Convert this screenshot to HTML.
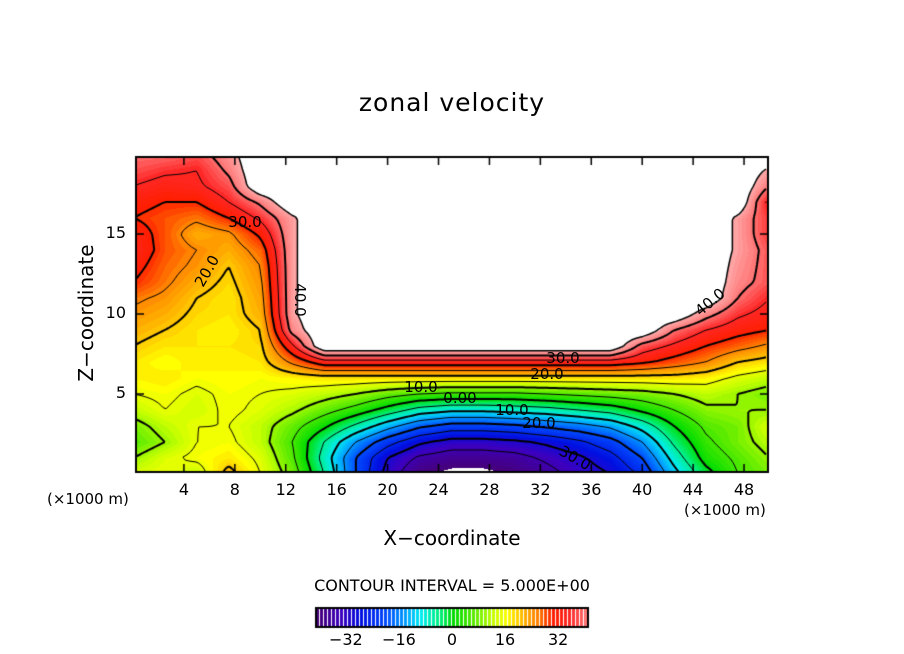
<!DOCTYPE html>
<html><head><meta charset="utf-8">
<style>
body{margin:0;background:#fff;width:904px;height:654px;overflow:hidden;font-family:"DejaVu Sans","Liberation Sans",sans-serif;}
#wrap{position:relative;width:904px;height:654px;}
.t{position:absolute;color:#000;white-space:nowrap;}
canvas{position:absolute;left:0;top:0;}
</style></head>
<body>
<div id="wrap">
<canvas id="cv" width="904" height="654"></canvas>
<div class="t" style="left:0;width:904px;text-align:center;top:88px;font-size:25px;letter-spacing:1px;">zonal velocity</div>
<div class="t" style="left:352px;width:200px;text-align:center;top:526px;font-size:20px;">X−coordinate</div>
<div class="t" style="left:-14px;top:301px;width:200px;text-align:center;font-size:20px;transform:rotate(-90deg);">Z−coordinate</div>
<div class="t" style="left:47px;top:490px;font-size:15px;">(×1000 m)</div>
<div class="t" style="left:684px;top:501px;font-size:15px;">(×1000 m)</div>
<div class="t" style="left:0;width:904px;text-align:center;top:576px;font-size:16px;">CONTOUR INTERVAL = 5.000E+00</div>
<div id="labels"></div>
</div>
<script>
const xs=[0,2.5,5,7.5,10,12.5,15,17.5,20,22.5,25,27.5,30,32.5,35,37.5,40,42.5,45,47.5,50];
const zs=[0,1,2,3,4,5,6,7,8,9,10,11,12,13,14,15,16,17,18,19,20];
const M=50;
const field=[
[14,15,12,22,15,8,-5,-20,-32,-40,-42,-42,-40,-37,-33,-30,-24,-12,-2,5,8],
[10,14,16,18,14,6,-7,-20,-30,-36,-38,-38,-37,-34,-31,-27,-20,-8,2,6,10],
[6,10,15,16,12,5,-5,-15,-23,-29,-32,-32,-31,-29,-26,-22,-15,-4,4,8,12],
[8,12,15,15,12,7,1,-6,-13,-19,-22,-22,-21,-19,-17,-14,-8,0,6,8,14],
[12,15,13,16,14,11,7,3,-2,-7,-9,-9,-8,-7,-5,-3,1,5,9,10,10],
[15,16,14,16,15,14,12,10,7,5,4,4,4,5,6,7,8,10,12,10,8],
[17,18,16,17,16,17,18,18,18,18,18,18,18,18,18,18,18,18,17,14,12],
[18,16,18,17,18,26,33,33,33,33,33,33,33,33,33,33,31,28,25,20,18],
[20,18,18,18,19,34,M,M,M,M,M,M,M,M,M,M,38,34,30,27,24],
[22,20,18,17,20,42,M,M,M,M,M,M,M,M,M,M,M,40,35,32,30],
[24,22,19,18,22,44,M,M,M,M,M,M,M,M,M,M,M,M,42,36,33],
[26,24,20,18,23,44,M,M,M,M,M,M,M,M,M,M,M,M,M,40,35],
[30,26,22,19,24,44,M,M,M,M,M,M,M,M,M,M,M,M,M,42,38],
[32,27,24,20,25,44,M,M,M,M,M,M,M,M,M,M,M,M,M,43,38],
[34,28,25,22,27,44,M,M,M,M,M,M,M,M,M,M,M,M,M,44,38],
[33,28,22,24,31,44,M,M,M,M,M,M,M,M,M,M,M,M,M,44,36],
[30,28,26,30,36,44,M,M,M,M,M,M,M,M,M,M,M,M,M,44,36],
[32,30,30,35,41,M,M,M,M,M,M,M,M,M,M,M,M,M,M,M,33],
[35,33,34,38,M,M,M,M,M,M,M,M,M,M,M,M,M,M,M,M,40],
[38,36,35,41,M,M,M,M,M,M,M,M,M,M,M,M,M,M,M,M,44],
[40,40,38,43,M,M,M,M,M,M,M,M,M,M,M,M,M,M,M,M,M]];
const xTicks=[4,8,12,16,20,24,28,32,36,40,44,48];
const zTicks=[5,10,15];
const cbTicks=[-32,-16,0,16,32];
const contourLevels=[-35,-30,-25,-20,-15,-10,-5,0,5,10,15,20,25,30,35,40];

const L=136,R=768,T=157,B=472;
const X=v=>133+v*12.73;
const Z=v=>474-v*16;
const invX=p=>(p-133)/12.73, invZ=p=>(474-p)/16;
function sample(x,z){
  let i=Math.max(0,Math.min(xs.length-2,Math.floor(x/2.5)));
  let j=Math.max(0,Math.min(zs.length-2,Math.floor(z)));
  let tx=Math.max(0,Math.min(1,(x-xs[i])/2.5)),tz=Math.max(0,Math.min(1,z-zs[j]));
  const a=field[j][i],b=field[j][i+1],c=field[j+1][i],d=field[j+1][i+1];
  return (a*(1-tx)+b*tx)*(1-tz)+(c*(1-tx)+d*tx)*tz;
}
const stops=[[-41,[70,0,120]],[-34,[60,0,190]],[-28,[0,16,225]],[-20,[0,80,255]],[-14,[0,170,255]],[-10,[0,235,240]],[-5,[0,240,140]],[0,[0,220,0]],[6,[90,235,0]],[12,[200,255,0]],[16,[255,255,0]],[20,[255,195,0]],[25,[255,130,0]],[30,[255,30,0]],[35,[255,40,40]],[40,[255,120,120]],[45,[255,175,175]]];
function col(v){
  v=Math.floor(v);
  for(let k=0;k<stops.length-1;k++){const[a,ca]=stops[k],[b,cb]=stops[k+1];
    if(v<=b){const t=Math.max(0,(v-a)/(b-a));return ca.map((c,n)=>Math.round(c+(cb[n]-c)*t));}}
  return stops[stops.length-1][1];
}
const cv=document.getElementById('cv'),ctx=cv.getContext('2d');
const img=ctx.createImageData(R-L,B-T);
for(let py=T;py<B;py++)for(let px=L;px<R;px++){
  const v=sample(invX(px),invZ(py));let c=[255,255,255];
  if(v<45&&v>-40.5)c=col(v);
  const o=((py-T)*(R-L)+(px-L))*4;img.data[o]=c[0];img.data[o+1]=c[1];img.data[o+2]=c[2];img.data[o+3]=255;
}
ctx.putImageData(img,L,T);
const S=3;
ctx.strokeStyle='#000';
contourLevels.forEach(lv=>{
  ctx.beginPath();
  ctx.lineWidth=(lv%10===0)?2:1;
  ctx.setLineDash(lv<0?[6,4]:[]);
  for(let py=T;py<B-S+1;py+=S)for(let px=L;px<R-S+1;px+=S){
    const p=[[px,py],[px+S,py],[px+S,py+S],[px,py+S]];
    const v=p.map(q=>sample(invX(q[0]),invZ(q[1])));
    if(v.some(w=>w>=45))continue;
    const pts=[];
    for(let k=0;k<4;k++){const a=v[k],b=v[(k+1)%4];
      if((a<lv)!==(b<lv)){const t=(lv-a)/(b-a);const A=p[k],Bq=p[(k+1)%4];pts.push([A[0]+(Bq[0]-A[0])*t,A[1]+(Bq[1]-A[1])*t]);}}
    for(let k=0;k+1<pts.length;k+=2){ctx.moveTo(pts[k][0],pts[k][1]);ctx.lineTo(pts[k+1][0],pts[k+1][1]);}
  }
  ctx.stroke();
});
ctx.setLineDash([]);
ctx.lineWidth=1.5;ctx.beginPath();
for(let py=T;py<B-S+1;py+=S)for(let px=L;px<R-S+1;px+=S){
  const p=[[px,py],[px+S,py],[px+S,py+S],[px,py+S]];
  const v=p.map(q=>sample(invX(q[0]),invZ(q[1])));const pts=[];
  for(let k=0;k<4;k++){const a=v[k],b=v[(k+1)%4];
    if((a<45)!==(b<45)){const t=(45-a)/(b-a);const A=p[k],Bq=p[(k+1)%4];pts.push([A[0]+(Bq[0]-A[0])*t,A[1]+(Bq[1]-A[1])*t]);}}
  for(let k=0;k+1<pts.length;k+=2){ctx.moveTo(pts[k][0],pts[k][1]);ctx.lineTo(pts[k+1][0],pts[k+1][1]);}
}
ctx.stroke();
ctx.lineWidth=2;ctx.strokeRect(L,T,R-L,B-T);
ctx.lineWidth=1.5;
xTicks.forEach(t=>{ctx.beginPath();ctx.moveTo(X(t),B);ctx.lineTo(X(t),B-8);ctx.moveTo(X(t),T);ctx.lineTo(X(t),T+8);ctx.stroke();});
zTicks.forEach(t=>{ctx.beginPath();ctx.moveTo(L,Z(t));ctx.lineTo(L+8,Z(t));ctx.moveTo(R,Z(t));ctx.lineTo(R-8,Z(t));ctx.stroke();});
const cbL=316,cbR=588,cbT=608,cbB=627;
const cbX=v=>cbL+(v+41)*(cbR-cbL)/82;
for(let px=cbL;px<cbR;px++){const v=-41+(px-cbL)*82/(cbR-cbL);const c=col(v);
  ctx.fillStyle=((px-cbL)%4===3)?'#fff':`rgb(${c[0]},${c[1]},${c[2]})`;ctx.fillRect(px,cbT,1,cbB-cbT);}
ctx.lineWidth=2;ctx.strokeRect(cbL,cbT,cbR-cbL,cbB-cbT);
const lab=document.getElementById('labels');
function addT(txt,x,y,name,align,size){const d=document.createElement('div');d.className='t';d.textContent=txt;
  
  
  d.style.fontSize=(size||16)+'px';d.style.top=y+'px';
  if(align==='c'){d.style.left=(x-40)+'px';d.style.width='80px';d.style.textAlign='center';}
  else{d.style.left=(x-80)+'px';d.style.width='80px';d.style.textAlign='right';}
  lab.appendChild(d);}
xTicks.forEach(t=>addT(String(t),X(t),480,'x-tick-label','c'));
zTicks.forEach(t=>addT(String(t),126,Z(t)-11,'y-tick-label','r'));
cbTicks.forEach(t=>addT(t<0?'−'+(-t):String(t),cbX(t),630,'colorbar-tick-label','c'));
[['30.0',245,222,0],['20.0',207,271,-60],['40.0',300,300,90],['40.0',710,302,-40],['30.0',563,358,0],['20.0',547,374,0],['10.0',421,387,0],['0.00',460,398,0],['10.0',512,410,0],['20.0',539,423,0],['30.0',575,458,30]].forEach(a=>{
  const d=document.createElement('div');d.className='t';d.textContent=a[0];
  
  
  d.style.fontSize='15px';d.style.left=(a[1]-22)+'px';d.style.top=(a[2]-9)+'px';d.style.width='44px';d.style.textAlign='center';
  d.style.transform='rotate('+a[3]+'deg)';lab.appendChild(d);});
</script>
</body></html>
